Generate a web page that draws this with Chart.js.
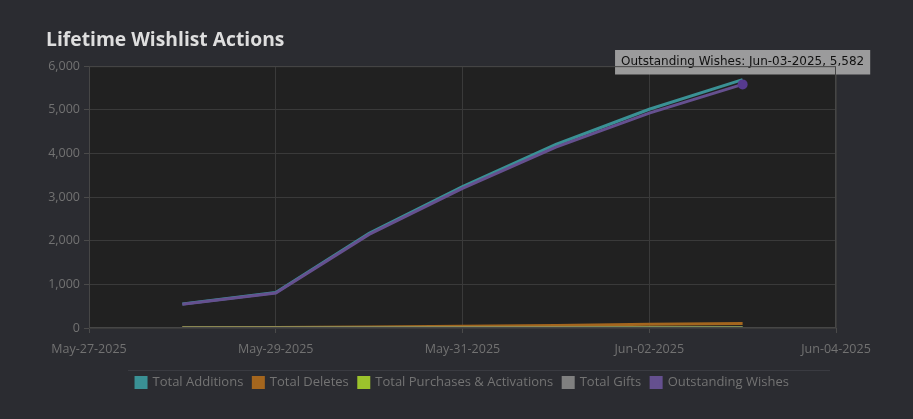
<!DOCTYPE html>
<html>
<head>
<meta charset="utf-8">
<script src="https://cdn.jsdelivr.net/npm/chart.js@4"></script>
<style>
  html, body { margin: 0; padding: 0; background: #2b2c31; }
  #wrap { width: 913px; height: 419px; position: relative; }
</style>
</head>
<body>
<div id="wrap"><canvas id="chart"></canvas></div>
<script>
(function () {
  'use strict';

  // dates of each daily sample
  var DATES = ['May-28-2025', 'May-29-2025', 'May-30-2025', 'May-31-2025', 'Jun-01-2025', 'Jun-02-2025', 'Jun-03-2025'];
  var X_TICKS = ['May-27-2025', 'May-29-2025', 'May-31-2025', 'Jun-02-2025', 'Jun-04-2025'];

  var ADDITIONS   = [548, 815, 2170, 3240, 4205, 5012, 5690];
  var DELETES     = [6, 12, 24, 40, 60, 84, 105];
  var PURCHASES   = [0, 0, 1, 1, 2, 3, 3];
  var GIFTS       = [0, 0, 0, 0, 0, 0, 0];
  var OUTSTANDING = [542, 803, 2145, 3199, 4143, 4925, 5582];

  var MONTHS = { Jan: 0, Feb: 1, Mar: 2, Apr: 3, May: 4, Jun: 5, Jul: 6, Aug: 7, Sep: 8, Oct: 9, Nov: 10, Dec: 11 };
  function dayNum(s) {
    var p = s.split('-');
    return Date.UTC(+p[2], MONTHS[p[0]], +p[1]) / 86400000;
  }
  var ORIGIN = dayNum(X_TICKS[0]);
  function pts(vals) {
    return vals.map(function (v, i) { return { x: dayNum(DATES[i]) - ORIGIN, y: v }; });
  }

  var FONT = "'Open Sans', 'DejaVu Sans', sans-serif";

  var plotBg = {
    id: 'plotBg',
    beforeDraw: function (chart) {
      var a = chart.chartArea, ctx = chart.ctx;
      ctx.save();
      ctx.fillStyle = '#212121';
      ctx.fillRect(a.left, a.top, a.right - a.left, a.bottom - a.top);
      ctx.restore();
    },
    afterDraw: function (chart) {
      var a = chart.chartArea, ctx = chart.ctx, lg = chart.legend;
      ctx.save();
      ctx.strokeStyle = '#464646';
      ctx.lineWidth = 1;
      ctx.strokeRect(a.left + 0.5, a.top + 0.5, a.right - a.left - 1, a.bottom - a.top - 1);
      // separator above legend
      var y = Math.round(lg.legendHitBoxes[0].top - 6) + 0.5;
      ctx.strokeStyle = '#3a3b41';
      ctx.beginPath();
      ctx.moveTo(lg.left + 39, y);
      ctx.lineTo(lg.right - 6, y);
      ctx.stroke();
      ctx.restore();
    }
  };

  function ds(label, vals, color, order) {
    return {
      label: label, data: pts(vals), order: order,
      borderColor: color, backgroundColor: color,
      borderWidth: 3, pointRadius: 0, pointHoverRadius: 5,
      pointHoverBorderWidth: 0, tension: 0, fill: false
    };
  }

  var chart = new Chart(document.getElementById('chart').getContext('2d'), {
    type: 'line',
    data: {
      datasets: [
        ds('Total Additions', ADDITIONS, '#3a9195', 4),
        ds('Total Deletes', DELETES, '#a4661e', 3),
        ds('Total Purchases & Activations', PURCHASES, '#9cc32c', 2),
        ds('Total Gifts', GIFTS, '#808080', 1),
        ds('Outstanding Wishes', OUTSTANDING, '#65508f', 0)
      ]
    },
    options: {
      responsive: true, maintainAspectRatio: false, animation: false,
      layout: { padding: { left: 46, right: 77, top: 0, bottom: 20 } },
      interaction: { mode: 'nearest', intersect: true },
      plugins: {
        title: {
          display: true, text: 'Lifetime Wishlist Actions', align: 'start',
          color: '#dedede', font: { family: FONT, size: 19.3, weight: 'bold' },
          padding: { top: 29, bottom: 14 }
        },
        legend: {
          position: 'bottom', fullSize: false,
          labels: {
            color: '#737373', font: { family: FONT, size: 13 },
            boxWidth: 10, boxHeight: 10, padding: 10,
            sort: function (a, b) { return a.datasetIndex - b.datasetIndex; }
          }
        },
        tooltip: {
          enabled: true, displayColors: false,
          backgroundColor: 'rgba(165,165,165,0.92)',
          bodyColor: '#111', bodyFont: { family: 'DejaVu Sans', size: 12 },
          padding: { left: 6, right: 6, top: 5, bottom: 5 },
          cornerRadius: 0, caretSize: 0, caretPadding: 10,
          yAlign: 'bottom', xAlign: 'center',
          callbacks: {
            title: function () { return ''; },
            label: function (c) {
              return c.dataset.label + ': ' + DATES[c.dataIndex] + ', ' + c.parsed.y.toLocaleString('en-US');
            }
          }
        }
      },
      scales: {
        x: {
          type: 'linear', min: 0, max: 8,
          grid: { color: '#3a3a3a', tickLength: 5, tickColor: '#4a4a4a' },
          border: { display: false },
          ticks: {
            stepSize: 2, color: '#727272', padding: 9, maxRotation: 0,
            font: { family: FONT, size: 12.5 },
            callback: function (v) { return X_TICKS[v / 2]; }
          }
        },
        y: {
          min: 0, max: 6000,
          afterFit: function (s) { s.width = 43; },
          grid: { color: '#3a3a3a', tickLength: 5, tickColor: '#4a4a4a' },
          border: { display: false },
          ticks: {
            stepSize: 1000, color: '#727272', padding: 4,
            font: { family: FONT, size: 12.5 },
            callback: function (v) { return v.toLocaleString('en-US'); }
          }
        }
      }
    },
    plugins: [plotBg]
  });

  var el = chart.getDatasetMeta(4).data[6];
  chart.setActiveElements([{ datasetIndex: 4, index: 6 }]);
  chart.tooltip.setActiveElements([{ datasetIndex: 4, index: 6 }], { x: el.x, y: el.y });
  chart.update();
})();
</script>
</body>
</html>
